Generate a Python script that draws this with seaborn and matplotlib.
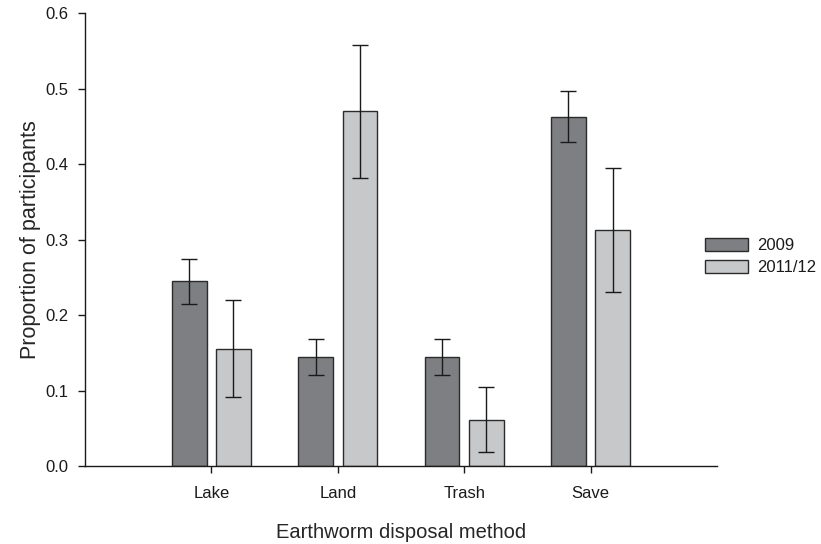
import numpy as np
import pandas as pd
import matplotlib
matplotlib.use("Agg")
import matplotlib.pyplot as plt
import seaborn as sns

# values
methods = ["Lake", "Land", "Trash", "Save"]
years = ["2009", "2011/12"]
prop_2009 = [0.245, 0.145, 0.145, 0.463]
prop_2011 = [0.156, 0.470, 0.062, 0.313]
err_2009 = [0.030, 0.024, 0.024, 0.034]
err_2011 = [0.064, 0.088, 0.043, 0.082]

df = pd.DataFrame({
    "method": methods * 2,
    "year": [years[0]] * 4 + [years[1]] * 4,
    "prop": prop_2009 + prop_2011,
})
errs = {years[0]: err_2009, years[1]: err_2011}

sns.set_style("ticks")
plt.rcParams['font.family'] = ['Liberation Sans', 'DejaVu Sans']
plt.rcParams['text.color'] = '#1a1a1a'

fig = plt.figure(figsize=(8.21, 5.44), dpi=100)
ax = fig.add_axes([0.1035, 0.1425, 0.7698, 0.8335])

palette = {"2009": "#7e7f83", "2011/12": "#c7c8ca"}
sns.barplot(data=df, x="method", y="prop", hue="year", order=methods,
            hue_order=years, palette=palette, errorbar=None, width=0.7,
            gap=0.22, edgecolor="#2b2b2b", linewidth=1.0, saturation=1,
            ax=ax)

# error bars on each bar
for cont, yr in zip(ax.containers, years):
    xs = [b.get_x() + b.get_width() / 2 for b in cont]
    hs = [b.get_height() for b in cont]
    ax.errorbar(xs, hs, yerr=errs[yr], fmt="none", ecolor="#1a1a1a",
                elinewidth=1.0, capsize=5.5, capthick=1.0, zorder=5)

ax.set_xlim(-1, 4)
ax.set_ylim(0, 0.6)
ax.set_yticks(np.arange(0, 0.61, 0.1))
ax.set_yticklabels([f"{v:.1f}" for v in np.arange(0, 0.61, 0.1)])
sns.despine(ax=ax)
for s in ["left", "bottom"]:
    ax.spines[s].set_linewidth(1.0)
    ax.spines[s].set_color("#1a1a1a")
ax.tick_params(axis="y", length=5, width=1, labelsize=12, pad=7, colors="#1a1a1a")
ax.tick_params(axis="x", length=5, width=1, labelsize=12, pad=9, colors="#1a1a1a")

ax.set_xlabel("Earthworm disposal method", fontsize=14.5, labelpad=16)
ax.set_ylabel("Proportion of participants", fontsize=15.5, labelpad=3)

leg = ax.legend(loc="upper left", bbox_to_anchor=(705 / 821, 1 - 238 / 544),
                bbox_transform=fig.transFigure, frameon=False, fontsize=12,
                handlelength=2.6, handleheight=0.85, labelspacing=0.4,
                handletextpad=0.55, borderaxespad=0, borderpad=0)

fig.savefig("out.png", dpi=100)
